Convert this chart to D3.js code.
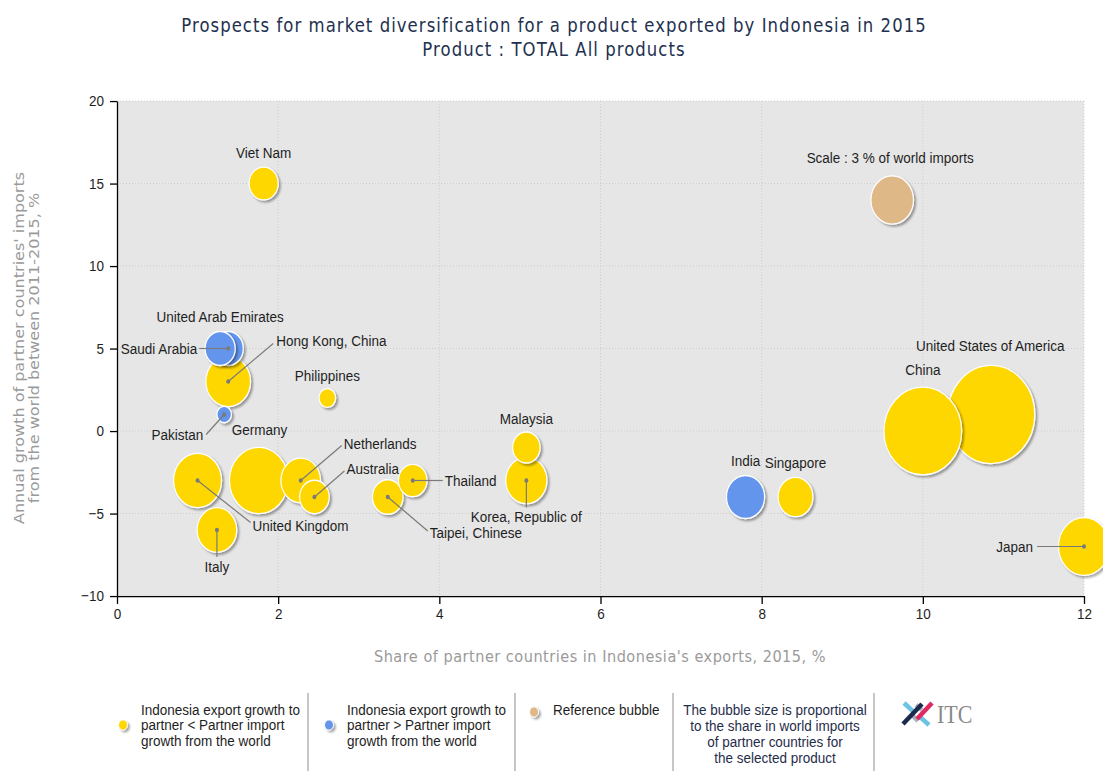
<!DOCTYPE html>
<html>
<head>
<meta charset="utf-8">
<script src="https://cdn.jsdelivr.net/npm/d3@7"></script>
<style>
  body { margin: 0; background: #fff; }
  svg { display: block; }
</style>
</head>
<body>
<div class="chart"></div>
<script>
// Bubble chart: market diversification prospects, Indonesia 2015

// data
var countries = ["United States of America", "China", "Germany", "Japan", "United Kingdom",
  "Hong Kong, China", "Korea, Republic of", "Italy", "Netherlands", "India", "Singapore",
  "Taipei, Chinese", "Saudi Arabia", "United Arab Emirates", "Australia", "Viet Nam",
  "Thailand", "Malaysia", "Philippines", "Pakistan"];
var exportShare = [10.85, 10.0, 1.76, 12.0, 1.0, 1.38, 5.08, 1.24, 2.28, 7.8, 8.42,
  3.36, 1.38, 1.28, 2.45, 1.82, 3.67, 5.08, 2.61, 1.33];
var importGrowth = [1, 0, -3, -7, -3, 3, -3, -6, -3, -4, -4, -4, 5, 5, -4, 15, -3, -1, 2, 1];
var worldImportShare = [12.5, 10.0, 5.7, 4.3, 3.8, 3.3, 2.8, 2.6, 2.6, 2.4, 2.0,
  1.55, 1.5, 1.5, 1.45, 1.4, 1.35, 1.25, 0.46, 0.35];
// true = Indonesia export growth to partner > partner import growth (blue)
var exportsOutgrow = [false, false, false, false, false, false, false, false, false, true, false,
  false, true, true, false, false, false, false, false, true];

var refShare = 3, refX = 9.62, refY = 14;
var xTicks = [0, 2, 4, 6, 8, 10, 12];
var yTicks = [-10, -5, 0, 5, 10, 15, 20];

var titleLines = ["Prospects for market diversification for a product exported by Indonesia in 2015",
  "Product : TOTAL All products"];
var legendItems = [
  ["Indonesia export growth to", "partner < Partner import", "growth from the world"],
  ["Indonesia export growth to", "partner > Partner import", "growth from the world"],
  ["Reference bubble"]
];
var legendNote = ["The bubble size is proportional", "to the share in world imports",
  "of partner countries for", "the selected product"];

// label placement (pixel offsets from bubble centre), lx/ly = end of leader line
var labelLayout = {
  "United States of America": { dx: -1, dy: -69, anchor: "middle" },
  "China": { dx: 0, dy: -61, anchor: "middle" },
  "Germany": { dx: -27, dy: -51, anchor: "start" },
  "Japan": { dx: -51, dy: 0, anchor: "end", lx: -47, ly: 0 },
  "United Kingdom": { dx: 55, dy: 45, anchor: "start", lx: 53, ly: 42 },
  "Hong Kong, China": { dx: 48, dy: -41, anchor: "start", lx: 45, ly: -38 },
  "Korea, Republic of": { dx: 0, dy: 36, anchor: "middle", lx: 0, ly: 27 },
  "Italy": { dx: 0, dy: 37, anchor: "middle", lx: 0, ly: 27 },
  "Netherlands": { dx: 43, dy: -37, anchor: "start", lx: 41, ly: -35 },
  "India": { dx: 0, dy: -36, anchor: "middle" },
  "Singapore": { dx: 0, dy: -34, anchor: "middle" },
  "Taipei, Chinese": { dx: 42, dy: 36, anchor: "start", lx: 40, ly: 34 },
  "Saudi Arabia": { dx: -31, dy: 0, anchor: "end", lx: -29, ly: 0 },
  "United Arab Emirates": { dx: 0, dy: -32, anchor: "middle" },
  "Australia": { dx: 32, dy: -28, anchor: "start", lx: 30, ly: -26 },
  "Viet Nam": { dx: 0, dy: -31, anchor: "middle" },
  "Thailand": { dx: 32, dy: 0, anchor: "start", lx: 30, ly: 0 },
  "Malaysia": { dx: 0, dy: -29, anchor: "middle" },
  "Philippines": { dx: 0, dy: -22, anchor: "middle" },
  "Pakistan": { dx: -21, dy: 20, anchor: "end", lx: -18, ly: 20 }
};

// the original picture is stretched vertically, so draw in a squashed space and scale up
var SY = 1.13;
var svgWidth = 1103, svgHeight = 771;
var margin = { top: 101, right: 19, bottom: 175, left: 117 };
var plotRight = svgWidth - margin.right;
var plotBottom = svgHeight - margin.bottom;

var labelFont = "'Liberation Sans', Arial, sans-serif";
var titleFont = "'DejaVu Sans', Verdana, sans-serif";

var svg = d3.select(".chart").append("svg")
  .attr("width", svgWidth)
  .attr("height", svgHeight);

var defs = svg.append("defs");
var shadow = defs.append("filter").attr("id", "shadow")
  .attr("x", "-20%").attr("y", "-20%").attr("width", "150%").attr("height", "150%");
shadow.append("feDropShadow")
  .attr("dx", 2).attr("dy", 1.8).attr("stdDeviation", 1)
  .attr("flood-color", "#000").attr("flood-opacity", 0.35);

var root = svg.append("g").attr("transform", `scale(1, ${SY})`);

var xScale = d3.scaleLinear().domain([0, 12]).range([margin.left, plotRight]);
var yScale = d3.scaleLinear().domain([-10, 20]).range([plotBottom / SY, margin.top / SY]);
var rScale = d3.scaleSqrt().domain([0, 3]).range([0, 21.3]);
var colour = function(blue) { return blue ? "#6495ED" : "#FFD700"; };

// title
root.append("g").selectAll("text")
  .data(titleLines)
  .enter()
  .append("text")
  .attr("x", 554)
  .attr("y", (d, i) => (32.5 + i * 24) / SY)
  .attr("text-anchor", "middle")
  .style("font-family", titleFont)
  .style("font-size", "16.5px")
  .style("letter-spacing", "1.05px")
  .attr("fill", "#233150")
  .text(d => d);

// plot background + grid
root.append("rect")
  .attr("x", margin.left)
  .attr("y", margin.top / SY)
  .attr("width", plotRight - margin.left)
  .attr("height", (plotBottom - margin.top) / SY)
  .attr("fill", "#E6E6E6");

var grid = root.append("g")
  .attr("stroke", "#cdcdcd")
  .attr("stroke-dasharray", "1,2");
grid.selectAll("line.h")
  .data(yTicks)
  .enter()
  .append("line")
  .attr("x1", margin.left).attr("x2", plotRight)
  .attr("y1", d => yScale(d)).attr("y2", d => yScale(d))
  .attr("vector-effect", "non-scaling-stroke");
grid.selectAll("line.v")
  .data(xTicks.slice(1))
  .enter()
  .append("line")
  .attr("x1", d => xScale(d)).attr("x2", d => xScale(d))
  .attr("y1", margin.top / SY).attr("y2", plotBottom / SY)
  .attr("vector-effect", "non-scaling-stroke");

// axes
var bottomAxis = d3.axisBottom(xScale).tickValues(xTicks).tickSizeInner(7).tickSizeOuter(0).tickPadding(4);
var leftAxis = d3.axisLeft(yScale).tickValues(yTicks).tickSizeInner(7).tickSizeOuter(0).tickPadding(6);

var xAxis = root.append("g")
  .attr("transform", `translate(0, ${plotBottom / SY})`)
  .call(bottomAxis);
var yAxis = root.append("g")
  .attr("transform", `translate(${margin.left}, 0)`)
  .call(leftAxis);

[xAxis, yAxis].forEach(function(ax) {
  ax.selectAll("path, line")
    .attr("stroke", "#000")
    .attr("stroke-width", 1.3)
    .attr("vector-effect", "non-scaling-stroke");
  ax.selectAll("text")
    .style("font-family", labelFont)
    .style("font-size", "13.5px")
    .attr("fill", "#1e1e1e");
});

// axis titles
root.append("text")
  .attr("x", 600)
  .attr("y", 662 / SY)
  .attr("text-anchor", "middle")
  .style("font-family", titleFont)
  .style("font-size", "14.5px")
  .style("letter-spacing", "0.5px")
  .attr("fill", "#9a9a9a")
  .text("Share of partner countries in Indonesia's exports, 2015, %");

root.append("g")
  .selectAll("text")
  .data(["Annual growth of partner countries' imports", "from the world between 2011-2015, %"])
  .enter()
  .append("text")
  .attr("transform", (d, i) => `translate(${24 + i * 14.5}, ${348 / SY}) rotate(-90)`)
  .attr("text-anchor", "middle")
  .style("font-family", titleFont)
  .style("font-size", "14.2px")
  .attr("fill", "#9a9a9a")
  .text(d => d);

// bubbles, biggest first so the small ones sit on top
var bubbleData = countries.map(function(name, i) {
  return { name: name, x: exportShare[i], y: importGrowth[i], share: worldImportShare[i], blue: exportsOutgrow[i] };
}).sort((a, b) => b.share - a.share);

// reference bubble
root.append("circle")
  .attr("cx", xScale(refX))
  .attr("cy", yScale(refY))
  .attr("r", rScale(refShare))
  .attr("fill", "#DEB887")
  .attr("stroke", "#fff")
  .attr("stroke-width", 1.2)
  .attr("filter", "url(#shadow)");
root.append("text")
  .attr("x", xScale(refX) - 2)
  .attr("y", yScale(refY) - 42 / SY)
  .attr("text-anchor", "middle")
  .attr("dominant-baseline", "central")
  .style("font-family", labelFont)
  .style("font-size", "13.5px")
  .attr("fill", "#1e1e1e")
  .text(`Scale : ${refShare} % of world imports`);

var circlesGroup = root.append("g")
  .selectAll("circle")
  .data(bubbleData)
  .enter()
  .append("circle")
  .attr("cx", d => xScale(d.x))
  .attr("cy", d => yScale(d.y))
  .attr("r", d => rScale(d.share))
  .attr("fill", d => colour(d.blue))
  .attr("stroke", "#fff")
  .attr("stroke-width", 1.2)
  .attr("filter", "url(#shadow)");

// leader lines + centre dots
var leaders = bubbleData.filter(d => labelLayout[d.name].lx !== undefined);
root.append("g")
  .selectAll("line")
  .data(leaders)
  .enter()
  .append("line")
  .attr("x1", d => xScale(d.x))
  .attr("y1", d => yScale(d.y))
  .attr("x2", d => xScale(d.x) + labelLayout[d.name].lx)
  .attr("y2", d => yScale(d.y) + labelLayout[d.name].ly / SY)
  .attr("stroke", "#7a7a7a")
  .attr("stroke-width", 1.2)
  .attr("vector-effect", "non-scaling-stroke");
root.append("g")
  .selectAll("circle")
  .data(leaders)
  .enter()
  .append("circle")
  .attr("cx", d => xScale(d.x))
  .attr("cy", d => yScale(d.y))
  .attr("r", 2)
  .attr("fill", "#7a7a7a");

// country labels
root.append("g")
  .selectAll("text")
  .data(bubbleData)
  .enter()
  .append("text")
  .attr("x", d => xScale(d.x) + labelLayout[d.name].dx)
  .attr("y", d => yScale(d.y) + labelLayout[d.name].dy / SY)
  .attr("text-anchor", d => labelLayout[d.name].anchor)
  .attr("dominant-baseline", "central")
  .style("font-family", labelFont)
  .style("font-size", "13.5px")
  .attr("fill", "#1e1e1e")
  .text(d => d.name);

// legend
var legend = root.append("g");
var legendX = [141, 347, 553];
var legendDot = [[123, 725], [329, 725], [534, 712]];
var legendColours = ["#FFD700", "#6495ED", "#DEB887"];

legendItems.forEach(function(lines, i) {
  legend.append("circle")
    .attr("cx", legendDot[i][0])
    .attr("cy", legendDot[i][1] / SY)
    .attr("r", 4.5)
    .attr("fill", legendColours[i])
    .attr("stroke", "#fff")
    .attr("stroke-width", 0.8)
    .attr("filter", "url(#shadow)");
  legend.append("g")
    .selectAll("text")
    .data(lines)
    .enter()
    .append("text")
    .attr("x", legendX[i])
    .attr("y", (d, j) => (715 + j * 15.5) / SY)
    .style("font-family", labelFont)
    .style("font-size", "13.5px")
    .attr("fill", "#1e1e1e")
    .text(d => d);
});

legend.append("g")
  .selectAll("text")
  .data(legendNote)
  .enter()
  .append("text")
  .attr("x", 775)
  .attr("y", (d, j) => (715 + j * 16) / SY)
  .attr("text-anchor", "middle")
  .style("font-family", labelFont)
  .style("font-size", "13.5px")
  .attr("fill", "#1f2d4a")
  .text(d => d);

legend.append("g")
  .selectAll("line")
  .data([308, 515, 673, 874])
  .enter()
  .append("line")
  .attr("x1", d => d).attr("x2", d => d)
  .attr("y1", 693 / SY).attr("y2", svgHeight / SY)
  .attr("stroke", "#a8a8a8")
  .attr("stroke-width", 1.3)
  .attr("vector-effect", "non-scaling-stroke");

// ITC logo
var logo = svg.append("g");
var bars = [
  { x1: 904, y1: 703, x2: 915, y2: 713, c: "#6cc4e4" },
  { x1: 919, y1: 716, x2: 929, y2: 725, c: "#6cc4e4" },
  { x1: 911, y1: 714, x2: 918, y2: 721, c: "#a9afbd" },
  { x1: 916, y1: 705, x2: 922, y2: 710, c: "#a9afbd" },
  { x1: 903, y1: 724, x2: 922, y2: 704, c: "#1c2a4d" },
  { x1: 917, y1: 719, x2: 932, y2: 703, c: "#e0295f" }
];
logo.selectAll("line")
  .data(bars)
  .enter()
  .append("line")
  .attr("x1", d => d.x1).attr("y1", d => d.y1)
  .attr("x2", d => d.x2).attr("y2", d => d.y2)
  .attr("stroke", d => d.c)
  .attr("stroke-width", 4.5);
logo.append("text")
  .attr("x", 937)
  .attr("y", 0)
  .attr("transform", `translate(0, 723) scale(1, ${SY})`)
  .style("font-family", "'Liberation Serif', 'DejaVu Serif', serif")
  .style("font-size", "22px")
  .attr("fill", "#8a8a8a")
  .text("ITC");
</script>
</body>
</html>
